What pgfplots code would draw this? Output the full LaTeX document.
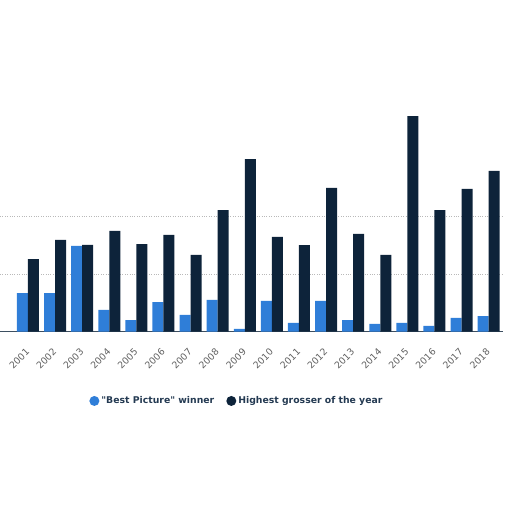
\documentclass[border=0pt]{standalone}
\usepackage{fontspec}
\setmainfont{DejaVu Sans}
\usepackage{pgfplots}
\pgfplotsset{compat=1.18}
\usepackage{pgfplotstable}
\definecolor{hcblue}{HTML}{2F7ED8}
\definecolor{hcnavy}{HTML}{0D233A}
\definecolor{lbl}{HTML}{606060}
\definecolor{leg}{HTML}{243A52}

% domestic gross, millions USD
\pgfplotstableread{
idx best top
0  167 315
1  167 398
2  372 377
3   94 437
4   50 380
5  128 420
6   72 333
7  137 528
8   11 749
9  133 411
10  37 376
11 133 624
12  50 424
13  33 333
14  37 936
15  24 528
16  59 620
17  67 698
}\movies

\begin{document}
\begin{tikzpicture}
\useasboundingbox (0,0) rectangle (512pt,512pt);
\begin{axis}[
    at={(0pt,180.5pt)}, anchor=south west,
    scale only axis,
    width=503pt, height=230pt,
    xmin=-1.033, xmax=17.53,
    ymin=0, ymax=1000,
    ybar=0pt, bar width=11pt,
    axis x line*=bottom,
    axis y line*=left,
    y axis line style={draw=none},
    x axis line style={draw=hcnavy!80, line width=0.8pt, -},
    xtick={0,...,17},
    xticklabels={2001,2002,2003,2004,2005,2006,2007,2008,2009,2010,2011,2012,2013,2014,2015,2016,2017,2018},
    major tick length=0pt,
    xticklabel style={rotate=45, anchor=east, font=\fontsize{9.3}{10}\selectfont, text=lbl, yshift=-13pt, xshift=-10pt},
    ytick={250,500},
    yticklabel=\empty,
    ymajorgrids,
    grid style={gray!55, dotted},
    legend columns=2,
    legend style={at={(0.471,-0.302)}, anchor=center, draw=none, fill=none,
        font=\bfseries\fontsize{9.3}{11}\selectfont, text=leg,
        /tikz/every even column/.append style={column sep=10pt}},
    legend image code/.code={\fill[#1] (0.1em,0pt) circle (5pt);},
]
\addplot[fill=hcblue, draw=none] table[x=idx, y=best] {\movies};
\addlegendentry{\textquotedbl Best Picture\textquotedbl{} winner}
\addplot[fill=hcnavy, draw=none] table[x=idx, y=top] {\movies};
\addlegendentry{Highest grosser of the year}
\end{axis}
\end{tikzpicture}
\end{document}
